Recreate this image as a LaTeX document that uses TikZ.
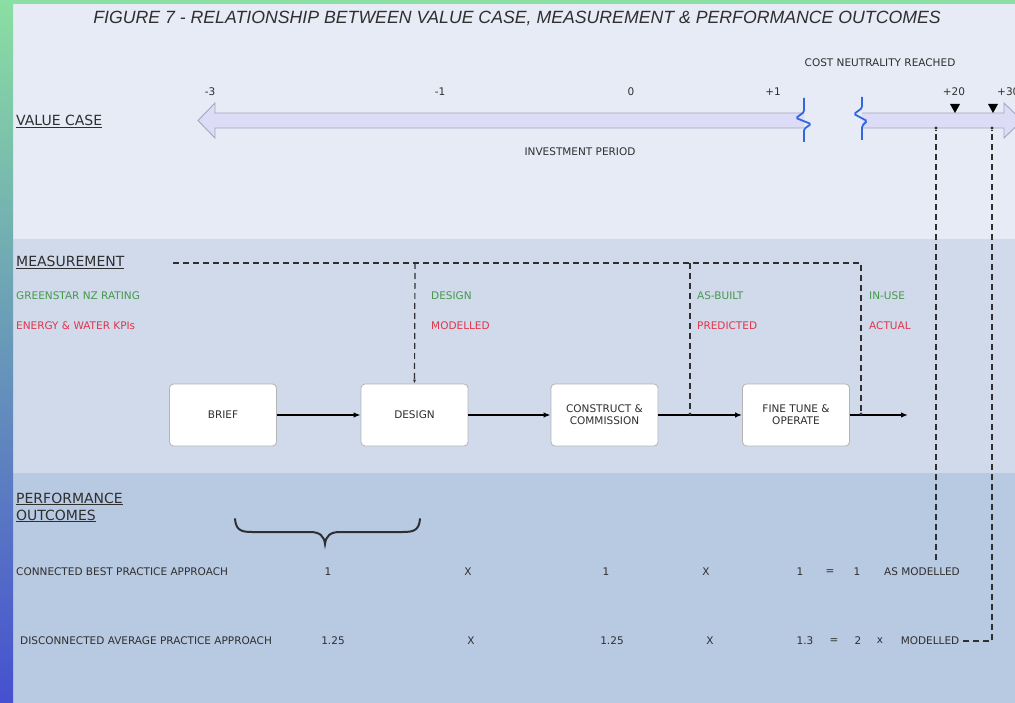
\documentclass[tikz,border=0pt]{standalone}
\usepackage{fontspec}
\setmainfont{DejaVu Sans}
\newfontfamily\titlefont{Liberation Sans}
\usetikzlibrary{arrows.meta}

\definecolor{bandvalue}{HTML}{E7EBF6}
\definecolor{bandmeas}{HTML}{D0DAEB}
\definecolor{bandperf}{HTML}{B8C9E2}
\definecolor{edgegreen}{HTML}{8ADFA2}
\definecolor{edgeblue}{HTML}{4650D0}
\definecolor{edgeteal}{HTML}{5EA6B4}
\definecolor{inktext}{HTML}{2F2F2F}
\definecolor{kpigreen}{HTML}{45994A}
\definecolor{kpired}{HTML}{E0364C}
\definecolor{shaftfill}{HTML}{DCDCF6}
\definecolor{shaftedge}{HTML}{A4A6BE}
\definecolor{breakblue}{HTML}{3566E0}
\definecolor{boxedge}{HTML}{B4B4B4}

\tikzset{
  txt/.style={font=\fontsize{10.5}{12}\selectfont, text=inktext, inner sep=0pt},
  headtxt/.style={font=\fontsize{14}{16}\selectfont, text=inktext, inner sep=0pt, anchor=base west},
  kgreen/.style={txt, text=kpigreen, anchor=west},
  kred/.style={txt, text=kpired, anchor=west},
  stagebox/.style={draw=boxedge, fill=white, rounded corners=4pt, line width=0.8pt,
    minimum width=107pt, minimum height=62pt, align=center, txt},
  flow/.style={line width=1.6pt, black, -{Latex[length=7pt,width=5.5pt]}},
  dashline/.style={line width=1.2pt, inktext, dash pattern=on 6pt off 4pt},
  dashtip/.style={dashline, -{Latex[length=4pt,width=3pt]}},
  junction/.style={circle, fill=inktext, inner sep=0pt, minimum size=3.2pt},
  shaft/.style={fill=shaftfill, draw=shaftedge, line width=0.9pt, line join=miter},
  brk/.style={breakblue, line width=1.8pt, rounded corners=1.5pt},
  tickmark/.style={fill=black}
}

\begin{document}
\begin{tikzpicture}[x=1pt,y=-1pt]
\clip (0,0) rectangle (1015,703);

% background bands
\fill[bandvalue] (0,0) rectangle (1015,239);
\fill[bandmeas] (0,239) rectangle (1015,473);
\fill[bandperf] (0,473) rectangle (1015,703);
\fill[edgegreen] (0,0) rectangle (1015,4);
\shade[top color=edgegreen, middle color=edgeteal, bottom color=edgeblue] (0,0) rectangle (13,703);

% title
\node[font=\titlefont\itshape\fontsize{17.7}{20}\selectfont, text=inktext, inner sep=0pt] (title) at (517,18)
  {FIGURE 7 - RELATIONSHIP BETWEEN VALUE CASE, MEASUREMENT \& PERFORMANCE OUTCOMES};

% ---------- value case ----------
\node[headtxt] (vc) at (16,126) {\underline{VALUE CASE}};

\path[shaft] (804,113) -- (215,113) -- (215,103) -- (198,120.5) -- (215,138) -- (215,128) -- (804,128);
\path[shaft] (862,113) -- (1004,113) -- (1004,103) -- (1022,120.5) -- (1004,138) -- (1004,128) -- (862,128);

\draw[brk] (804,98) -- (804,112) -- (796,118) -- (811,124) -- (804,129) -- (804,142);
\draw[brk] (862,97) -- (862,108) -- (854,114) -- (867,121) -- (862,126) -- (862,140);

\node[txt] (ym3) at (210,92) {-3};
\node[txt] (ym1) at (440,92) {-1};
\node[txt] (y0) at (631,92) {0};
\node[txt] (yp1) at (773,92) {+1};
\node[txt] (yp20) at (954,92) {+20};
\node[txt, anchor=west] (yp30) at (997,92) {+30};
\node[txt] (costneutral) at (880,63) {COST NEUTRALITY REACHED};
\node[txt] (invest) at (580,152) {INVESTMENT PERIOD};

\path[tickmark] (950,104) -- (960,104) -- (955,113) -- cycle;
\path[tickmark] (988,104) -- (998,104) -- (993,113) -- cycle;

% ---------- measurement ----------
\node[headtxt] (meas) at (16,267) {\underline{MEASUREMENT}};
\node[kgreen] (gs) at (16,296) {GREENSTAR NZ RATING};
\node[kred] (kpi) at (16,326) {ENERGY \& WATER KPIs};
\node[kgreen] (gdes) at (431,296) {DESIGN};
\node[kred] (rmod) at (431,326) {MODELLED};
\node[kgreen] (gbuilt) at (697,296) {AS-BUILT};
\node[kred] (rpred) at (697,326) {PREDICTED};
\node[kgreen] (guse) at (869,296) {IN-USE};
\node[kred] (ract) at (869,326) {ACTUAL};

\node[stagebox] (brief) at (223,415) {BRIEF};
\node[stagebox] (design) at (414.5,415) {DESIGN};
\node[stagebox] (construct) at (604.5,415) {CONSTRUCT \&\\COMMISSION};
\node[stagebox] (fine) at (796,415) {FINE TUNE \&\\OPERATE};
\coordinate (flowend) at (908,415);

\draw[flow] (brief) -- (design);
\draw[flow] (design) -- (construct);
\draw[flow] (construct) -- (fine);
\draw[flow] (fine) -- (flowend);

\coordinate (m0) at (173,263);
\coordinate (m1) at (415,263);
\coordinate (m2) at (690,263);
\coordinate (m3) at (861,263);
\node[junction] (j2) at (690,414) {};
\node[junction] (j3) at (861,414) {};
\draw[dashline] (m0) -- (m3) -- (j3);
\draw[dashtip] (m1) -- (design.north);
\draw[dashline] (m2) -- (j2);

% links from outcomes back to the value case
\node[junction] (v1) at (936,128) {};
\node[junction] (v2) at (992,128) {};
\coordinate (o1) at (936,560);
\coordinate (o2corner) at (992,641);
\coordinate (o2) at (963,641);
\draw[dashline] (o1) -- (v1);
\draw[dashline] (o2) -- (o2corner) -- (v2);

% ---------- performance outcomes ----------
\node[headtxt] (perf) at (16,503) {\underline{PERFORMANCE}};
\node[headtxt] (outc) at (16,520) {\underline{OUTCOMES}};

\draw[line width=2pt, inktext, line cap=round]
  (235,519) .. controls (236,530) and (241,532) .. (252,532) -- (310,532)
  .. controls (320,532) and (324,536) .. (325,544)
  .. controls (326,536) and (330,532) .. (340,532) -- (403,532)
  .. controls (414,532) and (419,530) .. (420,519);

\node[txt, anchor=west] (row1) at (16,572) {CONNECTED BEST PRACTICE APPROACH};
\node[txt] (r1a) at (328,572) {1};
\node[txt] (r1x) at (468,572) {X};
\node[txt] (r1b) at (606,572) {1};
\node[txt] (r1y) at (706,572) {X};
\node[txt] (r1c) at (800,572) {1};
\node[txt] (r1eq) at (830,572) {=};
\node[txt] (r1d) at (857,572) {1};
\node[txt] (r1res) at (922,572) {AS MODELLED};

\node[txt, anchor=west] (row2) at (20,641) {DISCONNECTED AVERAGE PRACTICE APPROACH};
\node[txt] (r2a) at (333,641) {1.25};
\node[txt] (r2x) at (471,641) {X};
\node[txt] (r2b) at (612,641) {1.25};
\node[txt] (r2y) at (710,641) {X};
\node[txt] (r2c) at (805,641) {1.3};
\node[txt] (r2eq) at (834,641) {=};
\node[txt] (r2d) at (858,641) {2};
\node[txt] (r2m) at (880,641) {x};
\node[txt] (r2res) at (930,641) {MODELLED};
\end{tikzpicture}
\end{document}
